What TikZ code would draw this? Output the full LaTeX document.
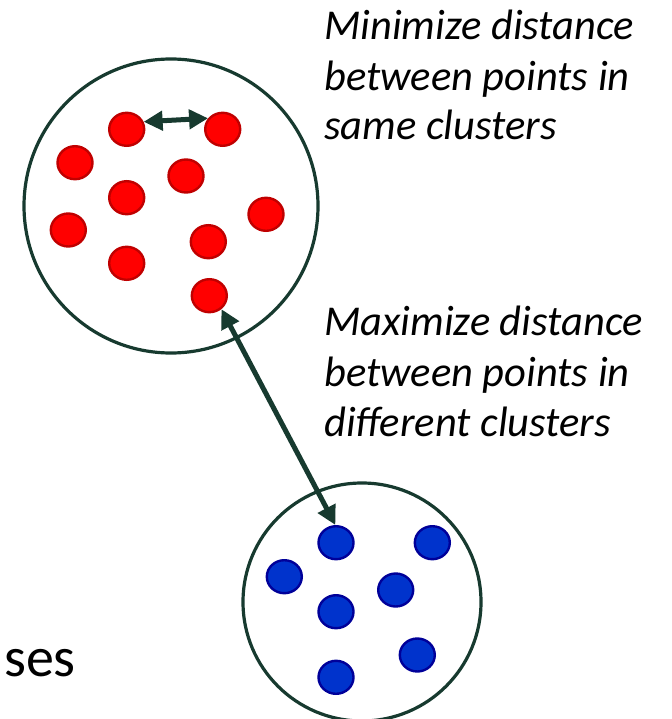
\documentclass[tikz,border=0pt]{standalone}
\usepackage{fontspec}
\setmainfont{Carlito}
\usetikzlibrary{shapes.geometric,arrows.meta}
\definecolor{edgegreen}{HTML}{173A2F}
\definecolor{redfill}{HTML}{FF0000}
\definecolor{redline}{HTML}{C00000}
\definecolor{bluefill}{HTML}{0033CC}
\definecolor{blueline}{HTML}{000099}
\tikzset{
  cluster/.style={circle,draw=edgegreen,line width=3.2pt,inner sep=0pt,fill=none},
  reddot/.style={ellipse,draw=redline,fill=redfill,line width=2.4pt,minimum width=35pt,minimum height=33pt,inner sep=0pt},
  bluedot/.style={ellipse,draw=blueline,fill=bluefill,line width=2.4pt,minimum width=35pt,minimum height=33pt,inner sep=0pt},
  distarrow/.style={draw=edgegreen,line width=5pt,{Triangle[length=19pt,width=19pt]}-{Triangle[length=19pt,width=19pt]},fill=edgegreen},
  notetext/.style={anchor=base west,inner sep=0pt,font=\fontsize{42.5}{50}\selectfont\itshape}
}
\begin{document}
\begin{tikzpicture}[x=1pt,y=-1pt]
\useasboundingbox (0,0) rectangle (671,719);
% clusters
\node[cluster,minimum size=294pt] (redc) at (171,206) {};
\node[cluster,minimum size=238pt] (bluec) at (362,602) {};
% red points
\node[reddot] (r1) at (126.7,129.3) {};
\node[reddot] (r2) at (222.7,129.3) {};
\node[reddot] (r3) at (75,162.7) {};
\node[reddot] (r4) at (186,176) {};
\node[reddot] (r5) at (126.7,197.7) {};
\node[reddot] (r6) at (266,214.3) {};
\node[reddot] (r7) at (68.3,230) {};
\node[reddot] (r8) at (208.3,241.7) {};
\node[reddot] (r9) at (126.7,263.3) {};
\node[reddot] (r10) at (209.3,295.7) {};
% blue points
\node[bluedot] (b1) at (336,542.7) {};
\node[bluedot] (b2) at (432.3,542.7) {};
\node[bluedot] (b3) at (284.3,576.7) {};
\node[bluedot] (b4) at (395.7,590) {};
\node[bluedot] (b5) at (336,611.7) {};
\node[bluedot] (b6) at (417.3,655) {};
\node[bluedot] (b7) at (336,677.3) {};
% arrows
\draw[distarrow] (r1.24) -- (r2.143);
\draw[distarrow] (r10.-48) -- (b1.92);
% texts
\node[notetext] (t1) at (324,39.3) {Minimize distance};
\node[notetext] (t2) at (324,90.7) {between points in};
\node[notetext] (t3) at (324,140) {same clusters};
\node[notetext] (t4) at (324,335) {Maximize distance};
\node[notetext] (t5) at (324,386.7) {between points in};
\node[notetext] (t6) at (324,436.7) {different clusters};
\node[anchor=base west,inner sep=0pt,font=\fontsize{56}{66}\selectfont] (ses) at (4,676.7) {ses};
\end{tikzpicture}
\end{document}
